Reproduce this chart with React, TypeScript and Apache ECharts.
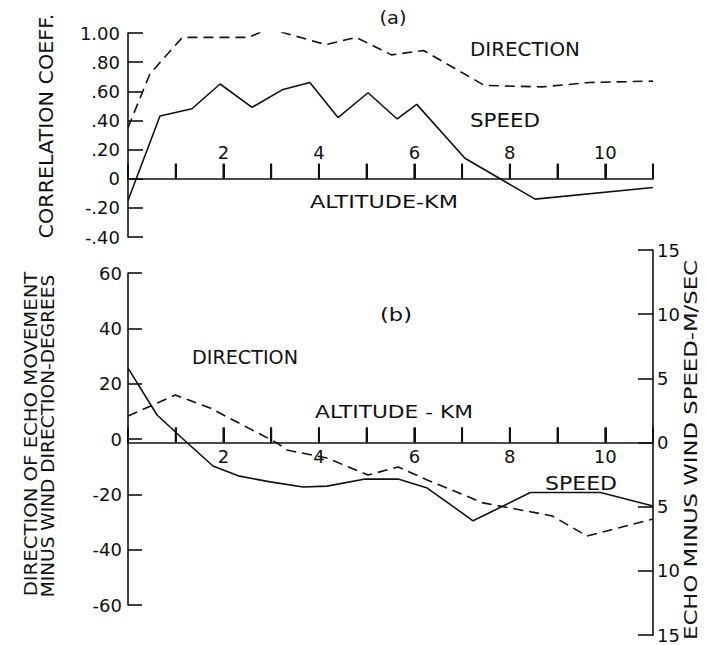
import React, { useEffect, useRef } from "react";
import * as echarts from "echarts";

// ---- Panel (a): correlation coefficient vs altitude (km) ----
const altDirA = [0, 0.46, 1.14, 2.53, 2.95, 4.15, 4.78, 5.52, 6.19, 7.47, 8.67, 9.66, 11.0];
const corrDirA = [0.35, 0.72, 0.97, 0.97, 1.03, 0.92, 0.97, 0.85, 0.88, 0.64, 0.63, 0.66, 0.67];

const altSpdA = [0, 0.67, 1.34, 1.93, 2.6, 3.23, 3.81, 4.4, 5.03, 5.64, 6.05, 7.06, 8.53, 11.0];
const corrSpdA = [-0.15, 0.43, 0.48, 0.65, 0.49, 0.61, 0.66, 0.42, 0.59, 0.41, 0.51, 0.14, -0.14, -0.06];

// ---- Panel (b): echo minus wind ----
const altDirB = [0, 0.99, 1.72, 3.12, 3.33, 4.17, 5.03, 5.66, 6.27, 7.44, 8.89, 9.62, 11.0];
const degDirB = [8.3, 15.9, 11.2, -1.4, -4.0, -6.9, -13.0, -10.1, -14.8, -23.1, -27.8, -35.1, -28.9];

const altSpdB = [0, 0.61, 1.13, 1.78, 2.31, 2.98, 3.67, 4.17, 4.97, 5.66, 6.27, 7.23, 8.43, 9.9, 11.0];
const mpsSpdB = [5.8, 2.14, 0.35, -1.83, -2.6, -3.07, -3.47, -3.4, -2.85, -2.85, -3.55, -6.1, -3.9, -3.9, -4.95];

// axis ranges / tick labels
const altMin = 0;
const altMax = 11;
const altTicks = [0, 1, 2, 3, 4, 5, 6, 7, 8, 9, 10, 11];
const altLabeled = [2, 4, 6, 8, 10];
const corrMin = -0.4;
const corrMax = 1.0;
const degMin = -60;
const degMax = 60;
const mpsMin = -15;
const mpsMax = 15;

const INK = "#111";
const FONT = '"DejaVu Sans", sans-serif';
const TICK_PX = 15;
const TICK_W = 2;

function pairs(xs: number[], ys: number[]) {
  return xs.map((x, i) => [x, ys[i]]);
}

function measure(text: string, size: number) {
  const ctx = document.createElement("canvas").getContext("2d")!;
  ctx.font = `${size}px "DejaVu Sans"`;
  return ctx.measureText(text).width || 1;
}

function txt(text: string, cx: number, cy: number, size: number, span: number, rot = 0) {
  return {
    type: "text",
    x: cx,
    y: cy,
    rotation: rot,
    scaleX: span / measure(text, size),
    style: {
      text,
      fontSize: size,
      fontFamily: FONT,
      fill: INK,
      align: "center",
      verticalAlign: "middle",
    },
  };
}

const lineSt = { color: INK, width: 1.6 };
const labelSt = { color: INK, fontSize: 18, fontFamily: FONT };

function hiddenX(gridIndex: number) {
  return { gridIndex, type: "value", min: altMin, max: altMax, show: false };
}
function hiddenY(gridIndex: number) {
  return { gridIndex, type: "value", min: 0, max: 1, show: false };
}

// altitude axis drawn in a thin strip grid whose bottom edge is the zero line
function visibleX(gridIndex: number, inside: boolean, margin: number) {
  return {
    gridIndex,
    type: "value",
    position: "bottom",
    min: altMin,
    max: altMax,
    interval: 1,
    axisLine: { show: true, onZero: false, lineStyle: lineSt },
    axisTick: { show: true, inside: true, length: TICK_PX, lineStyle: { color: INK, width: TICK_W } },
    axisLabel: {
      ...labelSt,
      inside,
      margin,
      showMinLabel: true,
      showMaxLabel: true,
      formatter: (v: number) => (altLabeled.includes(v) ? String(v) : ""),
    },
    splitLine: { show: false },
  };
}

// upward tick marks drawn by a custom series through the axis scale
function tickSeries(xAxisIndex: number, yAxisIndex: number) {
  return {
    type: "custom",
    xAxisIndex,
    yAxisIndex,
    silent: true,
    z: 10,
    clip: false,
    data: altTicks.map((k) => [k, 0]),
    encode: { x: 0, y: 1 },
    renderItem: (_params: any, api: any) => {
      const p = api.coord([api.value(0), api.value(1)]);
      return {
        type: "rect",
        shape: { x: p[0] - TICK_W / 2, y: p[1] - TICK_PX, width: TICK_W, height: TICK_PX },
        style: { fill: INK },
      };
    },
  };
}

export default function App() {
  const ref = useRef<HTMLDivElement>(null);
  useEffect(() => {
    if (!ref.current) return;
    const chart = echarts.init(ref.current, null, { renderer: "svg" });
    const fmtCorr = (v: number) => {
      const r = Math.round(v * 100) / 100;
      if (r === 0) return "0";
      const s = Math.abs(r).toFixed(2).replace(/^0/, "");
      return (r < 0 ? "-" : "") + s;
    };
    const g = (top: number, height: number) => ({
      left: 128,
      top,
      width: 525,
      height,
      containLabel: false,
      outerBoundsMode: "none",
    });
    const texts = [
      txt("CORRELATION COEFF.", 46, 126, 20, 225, Math.PI / 2),
      txt("(a)", 393, 18, 17, 27),
      txt("DIRECTION", 525, 49, 20, 110),
      txt("SPEED", 505, 120, 20, 70),
      txt("ALTITUDE-KM", 384, 202, 18, 148),
      txt("DIRECTION OF ECHO MOVEMENT", 31, 434, 17, 325, Math.PI / 2),
      txt("MINUS WIND DIRECTION-DEGREES", 48, 436, 17, 323, Math.PI / 2),
      txt("ECHO MINUS WIND SPEED-M/SEC", 691, 450, 17, 380, Math.PI / 2),
      txt("(b)", 396, 315, 17, 32),
      txt("DIRECTION", 245, 357, 19, 106),
      txt("ALTITUDE - KM", 394, 412, 18, 158),
      txt("SPEED", 581, 484, 19, 72),
    ];
    chart.setOption({
      animation: false,
      backgroundColor: "#fff",
      grid: [
        g(33, 204), // 0: panel a data
        g(273, 332), // 1: panel b direction (left axis)
        g(250, 385), // 2: panel b speed (right axis)
        g(163.7, 15), // 3: panel a altitude axis strip (bottom = zero)
        g(427.5, 15), // 4: panel b altitude axis strip (bottom = zero)
      ],
      xAxis: [hiddenX(0), hiddenX(1), hiddenX(2), visibleX(3, true, 17), visibleX(4, false, 5)],
      yAxis: [
        {
          gridIndex: 0,
          type: "value",
          min: corrMin,
          max: corrMax,
          interval: 0.2,
          axisLine: { show: true, onZero: false, lineStyle: lineSt },
          axisTick: { show: true, inside: true, length: 15, lineStyle: lineSt },
          axisLabel: { ...labelSt, margin: 8, formatter: fmtCorr },
          splitLine: { show: false },
        },
        {
          gridIndex: 1,
          type: "value",
          position: "left",
          min: degMin,
          max: degMax,
          interval: 20,
          axisLine: { show: true, onZero: false, lineStyle: lineSt },
          axisTick: { show: true, inside: true, length: 14, lineStyle: lineSt },
          axisLabel: { ...labelSt, margin: 6, formatter: (v: number) => String(Math.round(v)) },
          splitLine: { show: false },
        },
        {
          gridIndex: 2,
          type: "value",
          position: "right",
          min: mpsMin,
          max: mpsMax,
          interval: 5,
          axisLine: { show: true, onZero: false, lineStyle: lineSt },
          axisTick: { show: true, inside: true, length: 15, lineStyle: lineSt },
          axisLabel: { ...labelSt, margin: 4, formatter: (v: number) => String(Math.abs(Math.round(v))) },
          splitLine: { show: false },
        },
        hiddenY(3),
        hiddenY(4),
      ],
      series: [
        {
          type: "line",
          xAxisIndex: 0,
          yAxisIndex: 0,
          data: pairs(altDirA, corrDirA),
          symbol: "none",
          lineStyle: { color: INK, width: 1.6, type: [10, 6] },
        },
        {
          type: "line",
          xAxisIndex: 0,
          yAxisIndex: 0,
          data: pairs(altSpdA, corrSpdA),
          symbol: "none",
          lineStyle: { color: INK, width: 1.6 },
        },
        {
          type: "line",
          xAxisIndex: 1,
          yAxisIndex: 1,
          data: pairs(altDirB, degDirB),
          symbol: "none",
          lineStyle: { color: INK, width: 1.6, type: [10, 6] },
        },
        {
          type: "line",
          xAxisIndex: 2,
          yAxisIndex: 2,
          data: pairs(altSpdB, mpsSpdB),
          symbol: "none",
          lineStyle: { color: INK, width: 1.6 },
        },
        tickSeries(0, 0),
        tickSeries(2, 2),
      ],
      graphic: texts,
    });
    return () => chart.dispose();
  }, []);
  return (
    <div
      ref={ref}
      style={{ position: "fixed", left: 0, top: 0, width: 706, height: 645, background: "#fff" }}
    />
  );
}
